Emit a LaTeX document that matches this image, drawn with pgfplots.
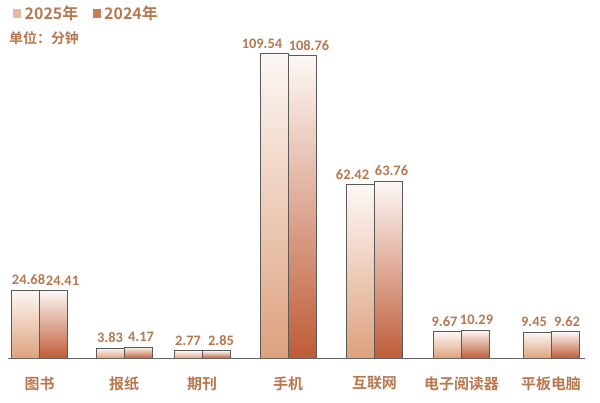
\documentclass[border=0pt]{standalone}
\usepackage{pgfplots}
\pgfplotsset{compat=1.18}
\usepackage{fontspec}
\setmainfont{Noto Sans CJK SC}[BoldFont={Noto Sans CJK SC Bold}]
\newfontfamily\numfont{Carlito}[UprightFont={* Bold}]
\definecolor{txt}{HTML}{B7774F}
\definecolor{topc}{HTML}{FDF8F5}
\definecolor{c25}{HTML}{DDA17D}
\definecolor{c24}{HTML}{BF5B37}
\definecolor{k25}{HTML}{E6B9A0}
\definecolor{k24}{HTML}{CD7C5A}
\definecolor{edge}{HTML}{5A5A5A}
\begin{document}
\begin{tikzpicture}[x=1bp,y=1bp]
\useasboundingbox (0,0) rectangle (600,402);
\begin{axis}[
  at={(8bp,43.5bp)}, anchor=origin,
  scale only axis, width=577bp, height=334bp,
  xmin=8, xmax=585, ymin=0, ymax=120,
  axis lines=none,
  clip=false,
  point meta=explicit symbolic,
  nodes near coords,
  every node near coord/.append style={font=\numfont\fontsize{14.5}{15}\selectfont, text=txt, inner sep=0pt, yshift=5bp},
  b25/.style={ybar, bar width=28bp, bar shift=0pt, draw=edge, line width=0.6bp, top color=topc, bottom color=c25},
  b24/.style={ybar, bar width=28bp, bar shift=0pt, draw=edge, line width=0.6bp, top color=topc, bottom color=c24},
  lx/.style={every node near coord/.append style={xshift=#1}},
]
% 2025 (bar centres)
\addplot[b25, lx=3bp] coordinates {(25.5,24.68) [24.68]};
\addplot[b25] coordinates {(110,3.83) [3.83]};
\addplot[b25] coordinates {(188,2.77) [2.77]};
\addplot[b25, lx=-12bp] coordinates {(274,109.54) [109.54]};
\addplot[b25, lx=-8bp] coordinates {(360.5,62.42) [62.42]};
\addplot[b25, lx=-3bp] coordinates {(447.5,9.67) [9.67]};
\addplot[b25, lx=-3bp] coordinates {(537,9.45) [9.45]};
% 2024
\addplot[b24, lx=9bp] coordinates {(53.5,24.41) [24.41]};
\addplot[b24, lx=3bp] coordinates {(138,4.17) [4.17]};
\addplot[b24, lx=5bp] coordinates {(216,2.85) [2.85]};
\addplot[b24, lx=7bp] coordinates {(302,108.76) [108.76]};
\addplot[b24, lx=3bp] coordinates {(388.5,63.76) [63.76]};
\addplot[b24, lx=1bp] coordinates {(475.5,10.29) [10.29]};
\addplot[b24, lx=2bp] coordinates {(565,9.62) [9.62]};
\draw[black!60, line width=0.7bp] (axis cs:8,0) -- (axis cs:585,0);
\foreach \xx/\lab in {39.5/图书, 124/报纸, 202/期刊, 288/手机, 374.5/互联网, 461.5/电子阅读器, 551/平板电脑}{
  \edef\tmp{\noexpand\node[font=\noexpand\bfseries\noexpand\fontsize{15}{16}\noexpand\selectfont, text=txt] at (axis cs:\xx,0) [yshift=-25bp] {\lab};}
  \tmp
}
\end{axis}
\fill[k25] (12.5,384) rectangle (21,393);
\node[anchor=west, font=\bfseries\fontsize{16}{17}\selectfont, text=txt, inner sep=0] at (24.5,388.5) {2025年};
\fill[k24] (92.5,384) rectangle (101,393);
\node[anchor=west, font=\bfseries\fontsize{16}{17}\selectfont, text=txt, inner sep=0] at (104,388.5) {2024年};
\node[anchor=west, font=\bfseries\fontsize{14}{15}\selectfont, text=txt, inner sep=0] at (9,364) {单位：分钟};
\end{tikzpicture}
\end{document}
